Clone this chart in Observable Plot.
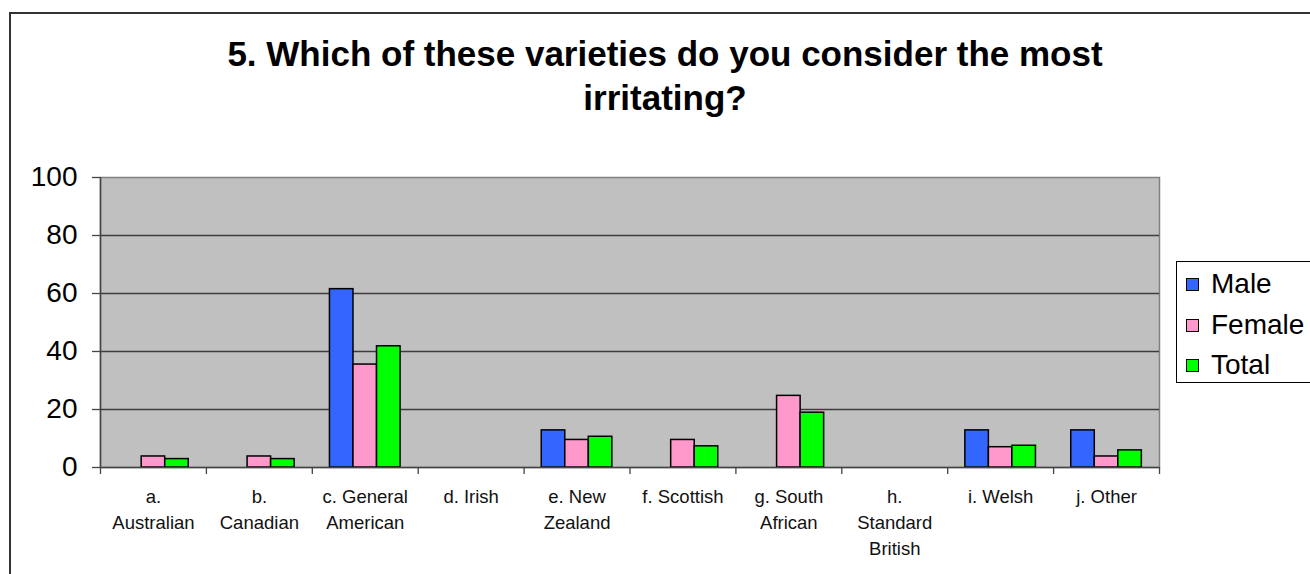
<!DOCTYPE html>
<html>
<head>
<meta charset="utf-8">
<script src="https://cdn.jsdelivr.net/npm/d3@7"></script>
<script src="https://cdn.jsdelivr.net/npm/@observablehq/plot@0.6"></script>
<style>
  html, body { margin: 0; padding: 0; background: #fff; overflow: hidden; }
  body { width: 1310px; height: 574px; position: relative; font-family: "Liberation Sans", Arial, sans-serif; }
  #outer { position: absolute; left: 9px; top: 12px; width: 1400px; height: 700px; border: 2px solid #333; box-sizing: border-box; }
  #title { position: absolute; left: 9px; top: 32px; width: 1312px; text-align: center; font-weight: bold; font-size: 35px; line-height: 44px; color: #000; }
  #chart { position: absolute; left: 0; top: 160px; }
  #legend { position: absolute; left: 1176px; top: 261px; width: 200px; height: 122px; border: 1.5px solid #000; box-sizing: border-box; padding-top: 2px; background: #fff; }
  .row { height: 40.5px; line-height: 40px; font-size: 28px; color: #000; position: relative; padding-left: 34px; white-space: nowrap; }
  .sw { position: absolute; left: 9px; top: 14px; width: 11px; height: 11px; border: 1px solid #000; }
</style>
</head>
<body>
<div id="outer"></div>
<div id="title">5. Which of these varieties do you consider the most<br>irritating?</div>
<div id="chart"></div>
<div id="legend"></div>
<script>
const categories = ["a. Australian", "b. Canadian", "c. General American", "d. Irish", "e. New Zealand", "f. Scottish", "g. South African", "h. Standard British", "i. Welsh", "j. Other"];
const categoryLabels = ["a.\nAustralian", "b.\nCanadian", "c. General\nAmerican", "d. Irish", "e. New\nZealand", "f. Scottish", "g. South\nAfrican", "h.\nStandard\nBritish", "i. Welsh", "j. Other"];
const series = ["Male", "Female", "Total"];
const male   = [0,   0,   61.5, 0, 12.8, 0,   0,    0, 12.8, 12.8];
const female = [3.8, 3.8, 35.5, 0, 9.5,  9.5, 24.7, 0, 7.0,  3.8];
const total  = [2.9, 2.9, 41.8, 0, 10.6, 7.3, 18.9, 0, 7.5,  5.9];
const yTicks = [0, 20, 40, 60, 80, 100];
const colors = ["#3366ff", "#ff99cc", "#00ff00"];

const seriesValues = [male, female, total];
const gapWidth = 1.5; // Excel gap width (150%)
const barFrac = 1 / (series.length + gapWidth);
const rows = [];
categories.forEach((c, i) => {
  series.forEach((s, k) => {
    const v = seriesValues[k][i];
    if (v > 0) rows.push({i, k, category: c, series: s, value: v});
  });
});

const chart = Plot.plot({
  width: 1180,
  height: 407,
  marginLeft: 100,
  marginRight: 21,
  marginTop: 17,
  marginBottom: 100,
  x: {domain: [0, categories.length], axis: null},
  y: {domain: [0, 100], axis: null},
  color: {domain: series, range: colors},
  style: {background: "transparent", fontFamily: "'Liberation Sans', Arial, sans-serif", color: "#000", overflow: "visible"},
  marks: [
    Plot.frame({fill: "#c0c0c0", stroke: "#808080", strokeWidth: 1.5}),
    Plot.ruleY(yTicks.filter(t => t > 0 && t < 100), {y: d => d, stroke: "#3c3c3c", strokeWidth: 1.3}),
    Plot.rect(rows, {
      x1: d => d.i + (gapWidth / 2 + d.k) * barFrac,
      x2: d => d.i + (gapWidth / 2 + d.k + 1) * barFrac,
      y1: d => 0,
      y2: d => d.value,
      fill: "series",
      stroke: "#000",
      strokeWidth: 1.5
    }),
    Plot.ruleX([0], {stroke: "#444", strokeWidth: 1.5}),
    Plot.ruleY([0], {stroke: "#444", strokeWidth: 1.5}),
    Plot.axisY({ticks: yTicks, tickSize: 8, tickPadding: 15, fontSize: 28, label: null, stroke: "#444", strokeWidth: 1.3}),
    Plot.axisX({ticks: d3.range(categories.length + 1), tickSize: 7, tickFormat: () => "", label: null, stroke: "#444", strokeWidth: 1.3}),
    Plot.text(categoryLabels, {x: (d, i) => i + 0.5, frameAnchor: "bottom", lineAnchor: "top", dy: 17, lineHeight: 1.4, fontSize: 18.5, fill: "#111"})
  ]
});
document.getElementById("chart").appendChild(chart);

const legend = document.getElementById("legend");
series.forEach((s, k) => {
  const row = document.createElement("div");
  row.className = "row";
  const sw = document.createElement("span");
  sw.className = "sw";
  sw.style.background = colors[k];
  row.appendChild(sw);
  row.appendChild(document.createTextNode(s));
  legend.appendChild(row);
});
</script>
</body>
</html>
